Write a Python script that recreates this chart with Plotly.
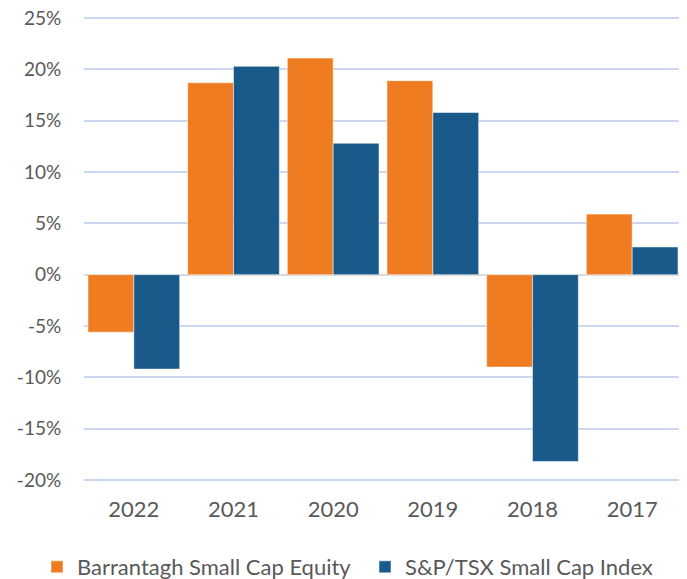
import plotly.graph_objects as go

years = ["2022", "2021", "2020", "2019", "2018", "2017"]
barrantagh = [-5.6, 18.7, 21.1, 18.9, -9.0, 5.9]
sptsx = [-9.2, 20.3, 12.8, 15.8, -18.2, 2.7]
series_names = ["Barrantagh Small Cap Equity", "S&P/TSX Small Cap Index"]
y_ticks = [-20, -15, -10, -5, 0, 5, 10, 15, 20, 25]
y_tick_labels = [f"{v}%" for v in y_ticks]

font_family = "Lato, sans-serif"
text_color = "#595959"

# page body has an 8px default margin, so the figure is sized to fit the window
W, H = 679, 571

fig = go.Figure()
fig.add_trace(go.Bar(x=years, y=barrantagh, name=series_names[0], legend="legend",
                     marker=dict(color="#F07C22", line=dict(color="rgba(255,255,255,0.5)", width=1))))
fig.add_trace(go.Bar(x=years, y=sptsx, name=series_names[1], legend="legend2",
                     marker=dict(color="#1A5A8A", line=dict(color="rgba(255,255,255,0.5)", width=1))))

legend_common = dict(orientation="h", xref="container", yref="container",
                     xanchor="left", yanchor="middle", y=12 / H,
                     font=dict(size=22, color=text_color),
                     bgcolor="rgba(0,0,0,0)", borderwidth=0)

fig.update_layout(
    width=W, height=H,
    margin=dict(l=76, r=5, t=8, b=98, autoexpand=False),
    paper_bgcolor="white", plot_bgcolor="white",
    barmode="group", bargap=0.08, bargroupgap=0,
    font=dict(family=font_family, size=19, color=text_color),
    showlegend=True,
    legend=dict(x=29 / W, **legend_common),
    legend2=dict(x=357 / W, **legend_common),
    xaxis=dict(showgrid=False, showline=False, ticks="outside", ticklen=9,
               tickcolor="rgba(0,0,0,0)", automargin=False,
               tickfont=dict(size=22, color=text_color)),
    yaxis=dict(range=[-20.1, 25.2], tickvals=y_ticks, ticktext=y_tick_labels,
               showgrid=True, gridcolor="#CAD7EE", gridwidth=2,
               zeroline=True, zerolinecolor="#D9D9D9", zerolinewidth=2,
               ticks="outside", ticklen=18, tickcolor="rgba(0,0,0,0)",
               automargin=False, ticklabeloverflow="allow",
               tickfont=dict(size=19, color=text_color)),
)

fig.write_html("out.html")
